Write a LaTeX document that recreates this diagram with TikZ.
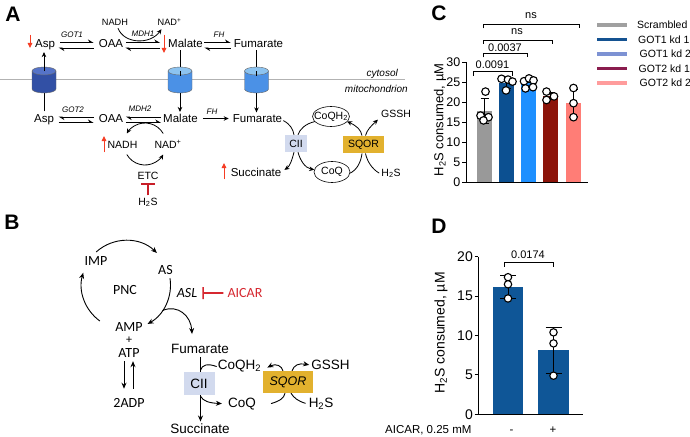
\documentclass[tikz,border=0pt]{standalone}
\usepackage{fontspec}
\setmainfont{Liberation Sans}
\newfontfamily\carl{Carlito}
\usetikzlibrary{arrows.meta}
\definecolor{redA}{RGB}{245,60,35}
\definecolor{inhib}{RGB}{200,30,40}
\definecolor{aicar}{RGB}{214,40,48}
\definecolor{cylD}{RGB}{50,80,165}
\definecolor{cylDt}{RGB}{85,115,200}
\definecolor{cylL}{RGB}{75,145,230}
\definecolor{cylLt}{RGB}{140,195,240}
\definecolor{cii}{RGB}{210,218,238}
\definecolor{sqor}{RGB}{226,177,46}
\definecolor{bGray}{RGB}{153,153,153}
\definecolor{bDark}{RGB}{12,80,145}
\definecolor{bLight}{RGB}{30,144,255}
\definecolor{bRed}{RGB}{140,20,10}
\definecolor{bSalmon}{RGB}{255,125,118}
\definecolor{lgGray}{RGB}{160,160,160}
\definecolor{lgDark}{RGB}{20,82,145}
\definecolor{lgLight}{RGB}{125,146,211}
\definecolor{lgRed}{RGB}{138,29,78}
\definecolor{lgSalmon}{RGB}{255,156,156}
\definecolor{bD}{RGB}{15,86,151}
\newcommand\drawcyl[3]{%
  \begin{scope}[shift={(#1)}]
    \filldraw[fill=#2, draw=black!60, line width=0.4pt] (-12,-9) -- (-12,9) arc[start angle=180,end angle=0,x radius=12,y radius=4] -- (12,-9) -- cycle;
    \filldraw[fill=#3, draw=black!60, line width=0.4pt] (0,-9) ellipse[x radius=12,y radius=4];
  \end{scope}}
\begin{document}
\begin{tikzpicture}[x=1pt,y=-1pt,
  plab/.style={font=\fontsize{21}{24}\selectfont\bfseries, inner sep=0},
  txA/.style={font=\fontsize{11.5}{13}\selectfont, inner sep=0, anchor=base},
  txS/.style={font=\fontsize{10.5}{12}\selectfont, inner sep=0, anchor=base},
  txN/.style={font=\fontsize{9.2}{11}\selectfont, inner sep=0, anchor=base},
  enz/.style={font=\fontsize{8}{9}\selectfont\itshape, inner sep=0},
  txB/.style={font=\fontsize{13.5}{15}\selectfont, inner sep=0, anchor=base},
  txC/.style={font=\fontsize{14}{16}\selectfont\carl, inner sep=0, anchor=base},
  arr/.style={-{Stealth[length=5pt,width=4.5pt]}, line width=0.8pt},
  arrB/.style={-{Stealth[length=6pt,width=5pt]}, line width=0.9pt},
  harp/.style={-{Stealth[harpoon,length=5pt,width=6pt]}, line width=0.8pt},
  redarr/.style={-{Triangle[length=5pt,width=4.5pt]}, line width=0.9pt, draw=redA, fill=redA},
  axl/.style={line width=0.9pt},
  errl/.style={line width=0.8pt},
  ptc/.style={fill=white, draw=black, line width=1.1pt},
  tickC/.style={font=\fontsize{12.5}{14}\selectfont, inner sep=0, anchor=east},
  tickD/.style={font=\fontsize{14}{16}\selectfont, inner sep=0, anchor=east},
  sig/.style={font=\fontsize{11}{13}\selectfont, inner sep=0, anchor=base},
  leg/.style={font=\fontsize{10.5}{12}\selectfont, inner sep=0, anchor=west}
]
\useasboundingbox (0,0) rectangle (690,436);
\fill[white] (0,0) rectangle (690,436);

% ================= Panel A =================
\node[plab] (labA) at (13,14) {A};
\draw[gray!60, line width=1.3pt] (0,79.5) -- (405,79.5);
\node[font=\fontsize{10}{12}\selectfont\itshape, inner sep=0, anchor=base east] (cyto) at (398,76) {cytosol};
\node[font=\fontsize{10}{12}\selectfont\itshape, inner sep=0, anchor=base east] (mito) at (408,92) {mitochondrion};

\node[txA] (aspC) at (45,48) {Asp};
\node[txA] (oaaC) at (111,48) {OAA};
\node[txA] (malC) at (185.5,48) {Malate};
\node[txA] (fumC) at (258.5,48) {Fumarate};
\node[txA] (aspM) at (44,122.5) {Asp};
\node[txA] (oaaM) at (111,122.5) {OAA};
\node[txA] (malM) at (180.5,122.5) {Malate};
\node[txA] (fumM) at (257.5,122.5) {Fumarate};

\node[enz] (got1) at (72,35) {GOT1};
\node[enz] (mdh1) at (143,34) {MDH1};
\node[enz] (fh1) at (219,35) {FH};
\node[enz] (got2) at (73,109.5) {GOT2};
\node[enz] (mdh2) at (140,108.5) {MDH2};
\node[enz] (fh2) at (212,112) {FH};

% cytosol equilibria
\draw[harp] ([xshift=5pt,yshift=5.5pt]aspC.base east) -- ([xshift=-5pt,yshift=5.5pt]oaaC.base west);
\draw[harp] ([xshift=-5pt]oaaC.base west) -- ([xshift=3.5pt]aspC.base east);
\draw[harp] ([xshift=3pt,yshift=5.5pt]oaaC.base east) -- ([xshift=-8pt,yshift=5.5pt]malC.base west);
\draw[harp] ([xshift=-8pt]malC.base west) -- ([xshift=2pt]oaaC.base east);
\draw[harp] ([xshift=1.5pt,yshift=5.5pt]malC.base east) -- ([xshift=-3pt,yshift=5.5pt]fumC.base west);
\draw[harp] ([xshift=-3pt]fumC.base west) -- ([xshift=1.5pt]malC.base east);
% mito equilibria
\draw[harp] ([xshift=-5pt,yshift=5.5pt]oaaM.base west) -- ([xshift=4.5pt,yshift=5.5pt]aspM.base east);
\draw[harp] ([xshift=4.5pt]aspM.base east) -- ([xshift=-5pt]oaaM.base west);
\draw[harp] ([xshift=-2pt,yshift=5.5pt]malM.base west) -- ([xshift=2.5pt,yshift=5.5pt]oaaM.base east);
\draw[harp] ([xshift=2.5pt]oaaM.base east) -- ([xshift=-2pt]malM.base west);
\draw[arr] ([xshift=5pt,yshift=4pt]malM.base east) -- ([xshift=-4pt,yshift=4pt]fumM.base west);

% NADH cytosol
\node[txN] (nadhC) at (115,26) {NADH};
\node[txN] (nadC) at (169.5,26) {NAD\textsuperscript{+}};
\draw[arr] ([xshift=3pt,yshift=-2pt]nadhC.south) .. controls (124,44) and (150,45) .. ([xshift=-8pt,yshift=-3pt]nadC.south);

% red indicator arrows
\coordinate (r1a) at (30,35); \coordinate (r1b) at (30,48);
\draw[redarr] (r1a) -- (r1b);
\coordinate (r2a) at (164,35); \coordinate (r2b) at (164,53);
\draw[redarr] (r2a) -- (r2b);
\coordinate (r3a) at (104,152); \coordinate (r3b) at (104,136);
\draw[redarr] (r3a) -- (r3b);
\coordinate (r4a) at (224,179); \coordinate (r4b) at (224,163);
\draw[redarr] (r4a) -- (r4b);

% transporters
\coordinate (cyl1) at (44,80);
\coordinate (cyl2) at (180,80);
\coordinate (cyl3) at (256.5,80);
\draw ([yshift=3pt]aspM.north -| cyl1) -- ([yshift=-10pt]cyl1);
\draw ([yshift=-2pt]malC.south -| cyl2) -- ([yshift=10pt]cyl2);
\draw ([yshift=-2pt]fumC.south -| cyl3) -- ([yshift=10pt]cyl3);
\drawcyl{cyl1}{cylD}{cylDt}
\drawcyl{cyl2}{cylL}{cylLt}
\drawcyl{cyl3}{cylL}{cylLt}
\draw[arr] ([yshift=9pt]cyl1) -- ([yshift=-1.5pt]aspC.south -| cyl1);
\draw ([yshift=9pt]cyl2) -- ([yshift=4pt]cyl2);
\draw ([yshift=9pt]cyl3) -- ([yshift=4pt]cyl3);
\draw[arr] ([yshift=-13pt]cyl2) -- ([yshift=2pt]malM.north -| cyl2);
\draw[arr] ([yshift=-13pt]cyl3) -- ([yshift=2pt]fumM.north -| cyl3);

% mito NADH cycle
\node[txS] (nadhM) at (122.5,148) {NADH};
\node[txS] (nadM) at (168,148) {NAD\textsuperscript{+}};
\coordinate (nc) at (145,144);
\draw[arr] ([shift={(-30:21)}]nc) arc[start angle=-30, end angle=-150, radius=21];
\draw[arr] ([shift={(150:21)}]nc) arc[start angle=150, end angle=30, radius=21];
\node[txS] (etc) at (148,179.3) {ETC};
\node[txS] (h2sM) at (148,205) {H\textsubscript{2}S};
\draw[-{Bar[width=14pt]}, inhib, line width=1.8pt] ([yshift=2pt]h2sM.north) -- ([yshift=-3.5pt]etc.south);

% CII / SQOR (A)
\node[txA] (succA) at (256,176) {Succinate};
\node[font=\fontsize{10.5}{12}\selectfont, fill=cii, inner sep=0, minimum width=22pt, minimum height=17pt] (ciiA) at (296,143.5) {CII};
\node[font=\fontsize{10.5}{12}\selectfont, inner sep=0] (coqh2A) at (331,116.5) {CoQH\textsubscript{2}};
\draw[line width=0.6pt] (coqh2A.center) ellipse[x radius=18.5, y radius=10];
\node[font=\fontsize{10.5}{12}\selectfont, inner sep=0] (coqA) at (332,171.5) {CoQ};
\draw[line width=0.6pt] ([yshift=-0.5pt]coqA.center) ellipse[x radius=18, y radius=10.5];
\node[font=\fontsize{10.5}{12}\selectfont, fill=sqor, inner sep=0, minimum width=41pt, minimum height=17.5pt] (sqorA) at (363.5,144.5) {SQOR};
\node[txS] (gsshA) at (396,117.3) {GSSH};
\node[txS] (h2sA) at (391,176) {H\textsubscript{2}S};

\draw[line width=0.8pt] ([shift={(1,2)}]fumM.east) .. controls (290,124) and (293,129) .. ([xshift=-2pt]ciiA.north);
\draw[line width=0.8pt] ([shift={(150:18.5 and 10)}]coqh2A.center) .. controls (305,124) and (300,129) .. ([xshift=2pt]ciiA.north);
\draw[arr] ([xshift=-2pt]ciiA.south) .. controls (292,160) and (290,166) .. ([shift={(3,-2)}]succA.east);
\draw[arr] ([xshift=2pt]ciiA.south) .. controls (300,160) and (305,168) .. ([shift={(190:18 and 10.5)}]coqA.center);
\draw[line width=0.8pt] ([shift={(10:18 and 10.5)}]coqA.center) .. controls (357,170) and (361,162) .. ([xshift=-1.5pt]sqorA.south);
\draw[line width=0.8pt] ([shift={(-2,0)}]h2sA.west) .. controls (372,169) and (367,161) .. ([xshift=2pt]sqorA.south);
\draw[arr] ([xshift=-1.5pt]sqorA.north) .. controls (361,130) and (357,126) .. ([shift={(30:18.5 and 10)}]coqh2A.center);
\draw[arr] ([xshift=2pt]sqorA.north) .. controls (367,130) and (371,126) .. ([shift={(-3,6)}]gsshA.west);

% ================= Panel B =================
\node[plab] (labB) at (12,222) {B};
\node[txC] (imp) at (96,265) {IMP};
\node[txC] (as) at (165.5,274.5) {AS};
\node[txC] (pnc) at (125,294) {PNC};
\node[txC, font=\fontsize{14}{16}\selectfont\carl\itshape] (asl) at (187,297.5) {ASL};
\node[txC, text=aicar] (aicarB) at (245,297.5) {AICAR};
\draw[-{Bar[width=12pt]}, aicar, line width=1.6pt] ([xshift=-4pt]aicarB.west) -- ([xshift=5pt]asl.east);
\node[txC] (amp) at (129,331) {AMP};
\node[txC, font=\fontsize{12}{14}\selectfont\carl] (plus) at (129,343) {+};
\node[txC] (atp) at (129,357) {ATP};
\node[txC] (adp) at (129,407) {2ADP};
\coordinate (cyc) at (126,285);
\draw[arrB] ([shift={(-132:44.5)}]cyc) arc[start angle=-132, end angle=-46, radius=44.5];
\draw[arrB] ([shift={(-9:44.5)}]cyc) arc[start angle=-9, end angle=61, radius=44.5];
\draw[arrB] ([shift={(126:44.5)}]cyc) arc[start angle=126, end angle=196, radius=44.5];
\draw[arrB] ([xshift=-5pt,yshift=-4pt]atp.south) -- ([xshift=-5pt,yshift=9pt]adp.north);
\draw[arrB] ([xshift=4pt,yshift=9pt]adp.north) -- ([xshift=4pt,yshift=-4pt]atp.south);

\node[txB] (fumB) at (200,353.5) {Fumarate};
\node[txB] (succB) at (200,433.5) {Succinate};
\draw[arrB] ([shift={(0.5,3)}]fumB.south) -- ([shift={(0.5,-2)}]succB.north);
\draw[arrB] ([shift={(35:44.5)}]cyc) .. controls (178,304) and (191,316) .. ([shift={(-8,-10)}]fumB.north);
\node[font=\fontsize{13.5}{15}\selectfont, fill=cii, inner sep=0, minimum width=31pt, minimum height=23pt] (ciiB) at (199,383.5) {CII};
\node[txB] (coqh2B) at (239.5,369) {CoQH\textsubscript{2}};
\node[txB] (coqB) at (242,407) {CoQ};
\node[font=\fontsize{12.5}{15}\selectfont\itshape, fill=sqor, inner sep=0, minimum width=50pt, minimum height=22pt] (sqorB) at (288,382) {SQOR};
\node[txB] (gsshB) at (330.5,369.5) {GSSH};
\node[txB] (h2sB) at (321,407) {H\textsubscript{2}S};
\draw[line width=0.9pt] ([shift={(1.5,-1.5)}]ciiB.north) .. controls (202,365) and (207,363) .. ([shift={(-1,1)}]coqh2B.west);
\draw[arrB] ([shift={(1.5,1)}]ciiB.south) .. controls (203,401) and (209,403) .. ([shift={(-6,0)}]coqB.west);
\draw[arrB] ([xshift=-5pt]sqorB.north) .. controls (282,366) and (276,363) .. ([shift={(6,2)}]coqh2B.east);
\draw[arrB] ([xshift=4pt]sqorB.north) .. controls (294,365) and (299,363) .. ([shift={(-2,0)}]gsshB.west);
\draw[line width=0.9pt] ([shift={(15,0)}]coqB.east) .. controls (280,401) and (284,398) .. ([xshift=-3pt]sqorB.south);
\draw[line width=0.9pt] ([shift={(-3,0)}]h2sB.west) .. controls (298,401) and (294,398) .. ([xshift=3pt]sqorB.south);

% ================= Panel C =================
\node[plab] (labC) at (439,13) {C};
\foreach \x/\c/\v/\lo/\hi in {484.5/bGray/17.75/14.7/20.9, 506.5/bDark/24.7/23.4/26.0, 528.5/bLight/25.4/24.8/26.0, 550.5/bRed/21.5/20.6/22.4, 573.5/bSalmon/19.8/16.4/23.2}{
  \fill[fill=\c] ({\x-7.5},182) rectangle ({\x+7.5},{182-4*\v});
  \draw[errl] (\x,{182-4*\lo}) -- (\x,{182-4*\hi});
  \draw[errl] ({\x-4},{182-4*\hi}) -- ({\x+4},{182-4*\hi});
  \draw[errl] ({\x-4},{182-4*\lo}) -- ({\x+4},{182-4*\lo});
}
\foreach \px/\pv in {485.5/22.6, 480.5/16.6, 488.5/16.2, 483.5/15.4,
  501.5/25.8, 508/25.6, 512.5/25.1, 506/22.9,
  524/25.2, 529/25.9, 533.5/25.4, 525.5/23.4, 533/23.7,
  546.5/22.6, 554/21.4, 546.5/20.5,
  573.5/23.5, 573.5/19.7, 573.5/16.2}{
  \filldraw[ptc] (\px,{182-4*\pv}) circle[radius=3.8];
}
\draw[axl] (466,62) -- (466,182) -- (588,182);
\foreach \v in {0,5,...,30}{
  \draw[axl] (462,{182-4*\v}) -- (466,{182-4*\v});
  \node[tickC] (ct\v) at (460.5,{182-4*\v}) {\v};
}
\node[rotate=90, font=\fontsize{13}{15}\selectfont, inner sep=0] (ylabC) at (440,120) {H\textsubscript{2}S consumed, µM};
\draw[axl] (473,75.7) -- (473,71.7) -- (512,71.7) -- (512,75.7);
\node[sig] (s1) at (492.5,68.3) {0.0091};
\draw[axl] (483,57.3) -- (483,53.3) -- (527,53.3) -- (527,57.3);
\node[sig] (s2) at (505,51.7) {0.0037};
\draw[axl] (483,44) -- (483,40) -- (552,40) -- (552,44);
\node[sig] (s3) at (517,35) {ns};
\draw[axl] (483,28.3) -- (483,24.3) -- (579,24.3) -- (579,28.3);
\node[sig] (s4) at (531,18.3) {ns};
% legend
\foreach \i/\c/\t/\tx in {0/lgGray/Scrambled/637, 1/lgDark/GOT1 kd 1/638, 2/lgLight/GOT1 kd 2/639.5, 3/lgRed/GOT2 kd 1/638.5, 4/lgSalmon/GOT2 kd 2/639.5}{
  \draw[line width=3.5pt, \c] (597,{25+14.5*\i}) -- (627,{25+14.5*\i});
  \node[leg] (lg\i) at (\tx,{25+14.5*\i}) {\t};
}

% ================= Panel D =================
\node[plab] (labD) at (439,226) {D};
\fill[bD] (493,414.3) rectangle (523,{414.3-7.88*16.2});
\fill[bD] (538,414.3) rectangle (569,{414.3-7.88*8.1});
\foreach \x/\lo/\hi in {508/14.7/17.6, 553.5/5.2/11.0}{
  \draw[errl] (\x,{414.3-7.88*\lo}) -- (\x,{414.3-7.88*\hi});
  \draw[errl] ({\x-8},{414.3-7.88*\hi}) -- ({\x+8},{414.3-7.88*\hi});
  \draw[errl] ({\x-8},{414.3-7.88*\lo}) -- ({\x+8},{414.3-7.88*\lo});
}
\foreach \px/\pv in {508/17.4, 508/16.5, 508/14.7, 553.5/10.4, 553.5/9.0, 553.5/4.9}{
  \filldraw[ptc] (\px,{414.3-7.88*\pv}) circle[radius=3.7];
}
\draw[axl] (478,256.7) -- (478,414.3) -- (583,414.3);
\foreach \v in {0,5,...,20}{
  \draw[axl] (474.5,{414.3-7.88*\v}) -- (478,{414.3-7.88*\v});
  \node[tickD] (dt\v) at (473,{414.3-7.88*\v}) {\v};
}
\node[rotate=90, font=\fontsize{14}{16}\selectfont, inner sep=0] (ylabD) at (441,333) {H\textsubscript{2}S consumed, µM};
\draw[axl] (504,266.7) -- (504,262.7) -- (553,262.7) -- (553,266.7);
\node[sig] (s5) at (528,258.3) {0.0174};
\node[font=\fontsize{11.5}{13}\selectfont, inner sep=0, anchor=base west] (aicX) at (385,433.5) {AICAR, 0.25 mM};
\node[font=\fontsize{11.5}{13}\selectfont, inner sep=0, anchor=base] (minus) at (511.5,433.5) {-};
\node[font=\fontsize{11.5}{13}\selectfont, inner sep=0, anchor=base] (plusD) at (553,433.5) {+};
\end{tikzpicture}
\end{document}
